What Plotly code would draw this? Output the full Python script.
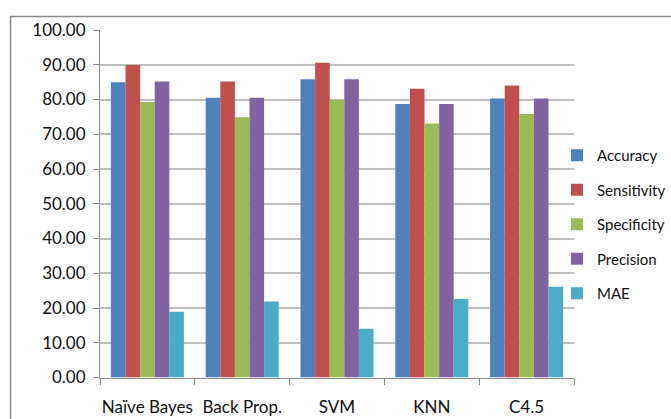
import plotly.graph_objects as go

# Classifier comparison: performance measures per method
methods = ["Naïve Bayes", "Back Prop.", "SVM", "KNN", "C4.5"]
accuracy = [85.0, 80.5, 85.8, 78.7, 80.3]
sensitivity = [89.9, 85.2, 90.6, 83.1, 84.0]
specificity = [79.3, 74.9, 79.9, 73.1, 75.8]
precision = [85.2, 80.5, 85.8, 78.7, 80.3]
mae = [18.9, 21.9, 14.0, 22.6, 26.1]

y_ticks = [0, 10, 20, 30, 40, 50, 60, 70, 80, 90, 100]

series = [
    ("Accuracy", accuracy, "#4F81BD"),
    ("Sensitivity", sensitivity, "#C0504D"),
    ("Specificity", specificity, "#9BBB59"),
    ("Precision", precision, "#8064A2"),
    ("MAE", mae, "#4BACC6"),
]

FONT = "Lato, 'Open Sans', sans-serif"
TEXT = "#111111"
SIZE = 17

fig = go.Figure()
for name, vals, color in series:
    fig.add_trace(go.Bar(
        x=methods, y=vals, name=name, legendgroup=name,
        marker=dict(color=color, line=dict(width=0)),
    ))

W, H = 671, 419
# plot area in pixels
X0, X1, Y0, Y1 = 100, 574, 30, 377.5

def px_x(p):
    return p / W

def px_y(p):
    return (H - p) / H

fig.update_layout(
    width=W, height=H,
    margin=dict(l=0, r=0, t=0, b=0, pad=0),
    paper_bgcolor="white", plot_bgcolor="white",
    barmode="group", bargap=0.23, bargroupgap=0,
    font=dict(family=FONT, size=SIZE, color=TEXT),
    showlegend=True,
    legend=dict(
        x=1, xanchor="right", y=px_y(139), yanchor="top",
        font=dict(size=15, color=TEXT),
        tracegroupgap=12, itemwidth=30,
        bgcolor="rgba(0,0,0,0)",
    ),
    xaxis=dict(
        domain=[px_x(X0), px_x(X1)], automargin=False,
        type="category", showline=True, linecolor="#8c8c8c", linewidth=1,
        ticks="outside", tickson="boundaries", ticklen=6, tickcolor="#8c8c8c",
        showgrid=False, ticklabelstandoff=14, tickangle=0,
        tickfont=dict(size=SIZE, color=TEXT),
    ),
    yaxis=dict(
        domain=[px_y(Y1), px_y(Y0)], automargin=False,
        range=[0, 100], tickvals=y_ticks,
        ticktext=[f"{v:.2f}" for v in y_ticks],
        showline=True, linecolor="#8c8c8c", linewidth=1,
        ticks="outside", ticklen=6, tickcolor="#8c8c8c",
        showgrid=True, gridcolor="#bfbfbf", gridwidth=1.5,
        zeroline=False, ticklabelstandoff=4,
        tickfont=dict(size=SIZE, color=TEXT),
    ),
    shapes=[dict(
        type="rect", xref="paper", yref="paper",
        x0=px_x(10.5), x1=px_x(700), y0=px_y(440), y1=px_y(16.5),
        line=dict(color="#8a8a8a", width=1.5), fillcolor="rgba(0,0,0,0)",
        layer="below",
    )],
)

fig.write_html("out.html")
